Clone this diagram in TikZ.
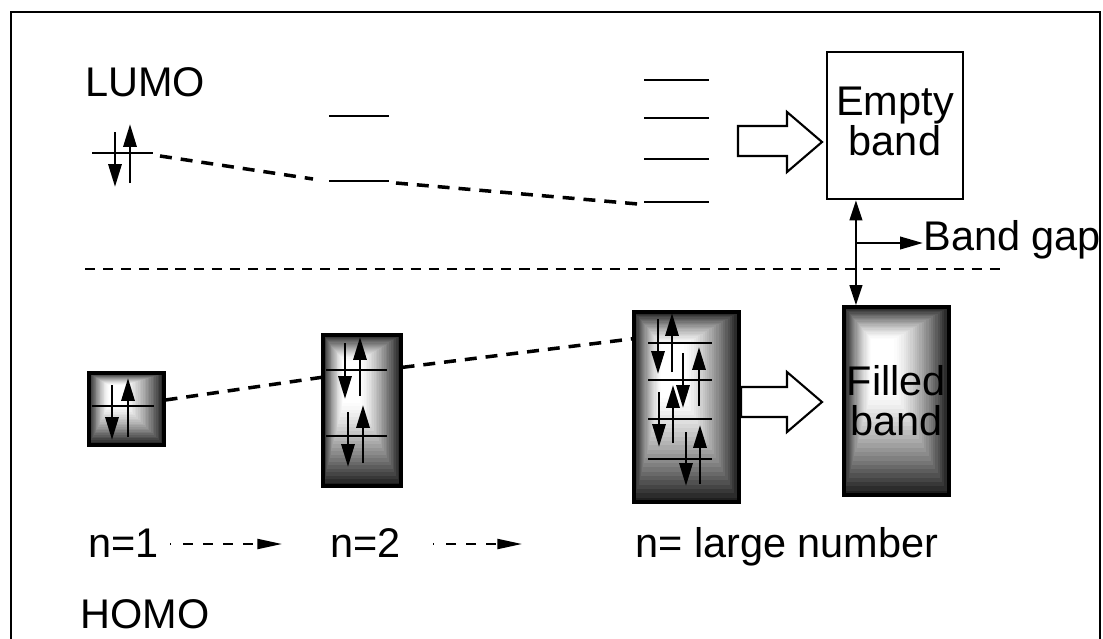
\documentclass[tikz,border=0pt]{standalone}
\usepackage{fontspec}
\setmainfont{Liberation Sans}
\usetikzlibrary{arrows.meta,fit,calc}

\tikzset{
  lbl/.style={font=\fontsize{23.6}{22.7}\selectfont, inner sep=0pt},
  level/.style={line width=1.2pt},
  spin/.style={line width=1.7pt, -{Triangle[length=13pt,width=7.4pt]}},
  trend/.style={line width=2pt, dash pattern=on 6.8pt off 5.1pt},
  sep/.style={line width=1.2pt, dash pattern=on 5.8pt off 4.5pt},
  blockarrow/.style={line width=1.2pt, fill=white, line join=miter},
  bandbox/.style={draw, line width=1.8pt, inner sep=0pt},
  emptybox/.style={draw, line width=1.2pt, inner sep=0pt},
  gaparrow/.style={line width=1.6pt, {Triangle[length=11.5pt,width=7pt]}-{Triangle[length=11.5pt,width=7pt]}},
  pointer/.style={line width=1.5pt, -{Triangle[length=13pt,width=7pt]}},
  steparrow/.style={line width=1.1pt,
    dash pattern=on 0.6pt off 6.8pt on 5.7pt off 5.7pt on 5.7pt off 5.7pt on 5.7pt off 5.7pt on 5.7pt off 5.7pt,
    -{Triangle[length=14pt,width=5.7pt]}},
}

% box filled with banded grey steps, lightest towards the upper left
\newcommand{\gradedbox}[5]{% name, x1, y1, x2, y2
  \foreach \k in {0,...,24}{%
    \pgfmathsetmacro{\gfrac}{\k/24}%
    \pgfmathsetmacro{\gshade}{88*(1-\gfrac)^1.4}%
    \fill[black!\gshade]
      ({#2+\gfrac*(0.26*(#4-#2))},{#3+\gfrac*(0.17*(#5-#3))})
      rectangle
      ({#4-\gfrac*(0.52*(#4-#2))},{#5-\gfrac*(0.55*(#5-#3))});
  }%
  \node[bandbox, fit={(#2,#3) (#4,#5)}] (#1) {};
}

\begin{document}
\begin{tikzpicture}[x=0.02cm,y=-0.02cm]
\useasboundingbox (0,0) rectangle (1103,639);

% outer frame (open at the bottom)
\draw[line width=1.15pt] (11,700) -- (11,12) -- (1100,12) -- (1100,700);

% labels
\node[lbl, anchor=base west] (lumo) at (85,96) {LUMO};
\node[lbl, anchor=base west] (homo) at (80,628) {HOMO};
\node[lbl, anchor=base west] (n1) at (88,557) {n=1};
\node[lbl, anchor=base west] (n2) at (330,557) {n=2};
\node[lbl, anchor=base west] (nl) at (635,557) {n= large number};
\draw[steparrow] (170,544) -- (282,544);
\draw[steparrow] (433,544) -- (522,544);

% ---------- unoccupied levels ----------
% n = 1
\draw[level] (92,153) coordinate (u1l) -- (153,153) coordinate (u1r);
\draw[spin] (115,132) -- (115,187);
\draw[spin] (130,183) -- (130,124);
% n = 2
\draw[level] (329,116) -- (389,116);
\draw[level] (329,181) coordinate (u2l) -- (389,181) coordinate (u2r);
% large n
\foreach \yy in {80,118,159} \draw[level] (644,\yy) -- (709,\yy);
\draw[level] (644,202) coordinate (u3l) -- (709,202);

\draw[trend] ($(u1r)+(7,3)$) -- ($(u2l)+(-16,-2)$);
\draw[trend] ($(u2r)+(7,2)$) -- ($(u3l)+(-6,2)$);

% conduction band
\draw[blockarrow] (738,126) -- (787,126) -- (787,112) -- (822,142) -- (787,172) -- (787,156) -- (738,156) -- cycle;
\node[emptybox, fit={(827,52) (963,199)}] (empty) {};
\node[lbl, align=center] at ($(empty.center)+(0,-4)$) {Empty\\band};

% separator
\draw[sep] (85,269) -- (1007,269);

% ---------- occupied levels ----------
\gradedbox{b1}{89}{373}{164}{445}
\draw[level] (92,406) -- (154,406);
\draw[spin] (112,385) -- (112,440);
\draw[spin] (128,437) -- (128,378);

\gradedbox{b2}{323}{335}{401}{486}
\draw[level] (326,370) -- (387,370);
\draw[level] (326,436) -- (387,436);
\draw[spin] (345,343) -- (345,399);
\draw[spin] (360,396) -- (360,337);
\draw[spin] (348,412) -- (348,467);
\draw[spin] (363,463) -- (363,405);

\gradedbox{b3}{634}{312}{739}{502}
\foreach \yy in {343,380,419,459} \draw[level] (648,\yy) -- (712,\yy);
\draw[spin] (658,319) -- (658,374);
\draw[spin] (672,372) -- (672,313);
\draw[spin] (683,353) -- (683,408);
\draw[spin] (699,406) -- (699,347);
\draw[spin] (659,392) -- (659,447);
\draw[spin] (673,443) -- (673,385);
\draw[spin] (686,432) -- (686,486);
\draw[spin] (700,484) -- (700,425);

\draw[trend] ($(b1.north east)!0.38!(b1.south east)$) -- ($(b2.north west)!0.285!(b2.south west)$);
\draw[trend] ($(b2.north east)!0.22!(b2.south east)$) -- ($(b3.north west)!0.147!(b3.south west)$);

% valence band
\draw[blockarrow] (741,387) -- (787,387) -- (787,372) -- (822,402) -- (787,432) -- (787,417) -- (741,417) -- cycle;
\gradedbox{filled}{844}{307}{949}{495}
\node[lbl, align=center] at (filled.center) {Filled\\band};

% band gap
\coordinate (gtop) at ($(empty.south west)+(30,0)$);
\draw[gaparrow] (gtop) -- (gtop |- filled.north);
\node[lbl, anchor=base west] (gap) at (923,250) {Band gap};
\draw[pointer] (gtop |- 0,243) -- (gap.west |- 0,243);
\end{tikzpicture}
\end{document}
